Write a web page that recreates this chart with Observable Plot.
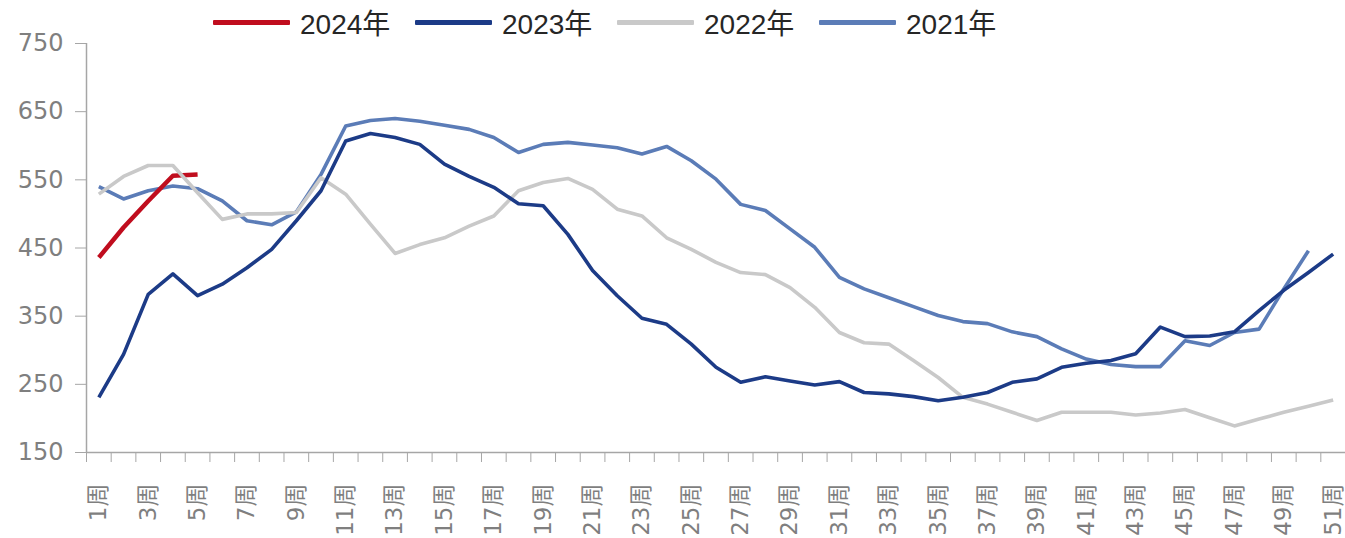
<!DOCTYPE html>
<html><head><meta charset="utf-8">
<script src="https://cdn.jsdelivr.net/npm/d3@7"></script>
<script src="https://cdn.jsdelivr.net/npm/@observablehq/plot@0.6"></script>
<style>
body{margin:0;background:#fff;}
#wrap{position:relative;width:1345px;height:538px;}
#legend{position:absolute;left:213px;top:0;height:44px;display:flex;align-items:center;font-family:"Liberation Sans","Noto Sans CJK SC",sans-serif;font-size:28px;color:#262626;z-index:2;}
.item{display:flex;align-items:center;width:202px;}
.sw{width:77px;height:5px;margin-right:10px;border-radius:1px;}
svg{position:absolute;left:0;top:0;}
</style></head><body><div id="wrap"><div id="legend"></div></div>
<script>
const weeks = [1,2,3,4,5,6,7,8,9,10,11,12,13,14,15,16,17,18,19,20,21,22,23,24,25,26,27,28,29,30,31,32,33,34,35,36,37,38,39,40,41,42,43,44,45,46,47,48,49,50,51];
const tickWeeks = [1,3,5,7,9,11,13,15,17,19,21,23,25,27,29,31,33,35,37,39,41,43,45,47,49,51];
const tickLabels = ["1周","3周","5周","7周","9周","11周","13周","15周","17周","19周","21周","23周","25周","27周","29周","31周","33周","35周","37周","39周","41周","43周","45周","47周","49周","51周"];
const yTicks = [150,250,350,450,550,650,750];
const seriesNames = ["2024年","2023年","2022年","2021年"];
const seriesColors = ["#c00d1e","#1c3b87","#c9c9c9","#5b7cb7"];

const v2024 = [436,480,519,556,558];
const v2023 = [231,294,382,412,380,397,421,448,490,534,607,618,612,602,573,555,539,515,512,470,417,380,347,338,309,275,253,261,255,249,254,238,236,232,226,231,238,253,258,275,281,285,295,334,320,321,327,358,388,414,441];
const v2022 = [529,555,571,571,531,492,500,500,502,553,529,485,442,455,465,482,497,534,546,552,536,507,497,465,448,429,414,411,392,363,326,311,309,285,260,231,221,209,197,209,209,209,205,208,213,201,189,199,209,218,227];
const v2021 = [540,522,534,541,537,519,490,484,503,558,629,637,640,636,630,624,612,590,602,605,601,597,588,599,578,551,514,505,478,451,407,390,377,364,351,342,339,327,320,302,287,279,276,276,314,307,326,331,390,446];

// legend
const legend = document.getElementById("legend");
seriesNames.forEach((n, i) => {
  const it = document.createElement("div"); it.className = "item";
  const sw = document.createElement("span"); sw.className = "sw"; sw.style.background = seriesColors[i];
  const tx = document.createElement("span"); tx.textContent = n;
  it.appendChild(sw); it.appendChild(tx); legend.appendChild(it);
});

const boundaries = weeks.map(w => w - 0.5).concat([weeks[weeks.length - 1] + 0.5]);
const lineMark = (vals, color, w) => Plot.line(vals, {x: (d, i) => weeks[i], y: d => d, stroke: color, strokeWidth: w, strokeLinejoin: "round", strokeLinecap: "butt"});

const chart = Plot.plot({
  width: 1345, height: 538,
  marginLeft: 86, marginRight: 0, marginTop: 43, marginBottom: 86,
  x: {type: "linear", domain: [0.5, 51.5]},
  y: {domain: [150, 750]},
  style: {background: "transparent", overflow: "visible"},
  marks: [
    Plot.ruleX([0.5], {stroke: "#a6a6a6", strokeWidth: 1.5}),
    Plot.ruleY([150], {stroke: "#a6a6a6", strokeWidth: 1.5}),
    Plot.axisY(yTicks, {tickSize: 11, tickPadding: 12, stroke: "#a6a6a6", fill: "#7f7f7f", fontSize: 24, fontFamily: "DejaVu Sans", label: null}),
    Plot.axisX(boundaries, {tickSize: 10, tickFormat: () => "", stroke: "#a6a6a6", label: null}),
    Plot.axisX(tickWeeks, {tickSize: 0, tickPadding: 31, tickRotate: -90, tickFormat: d => tickLabels[tickWeeks.indexOf(d)], fill: "#7f7f7f", fontSize: 23, fontFamily: "DejaVu Sans, Noto Sans CJK SC", label: null}),
    lineMark(v2021, seriesColors[3], 3.6),
    lineMark(v2024, seriesColors[0], 4.5),
    lineMark(v2022, seriesColors[2], 3.6),
    lineMark(v2023, seriesColors[1], 3.6)
  ]
});
document.getElementById("wrap").insertBefore(chart, legend);
</script>
</body></html>
